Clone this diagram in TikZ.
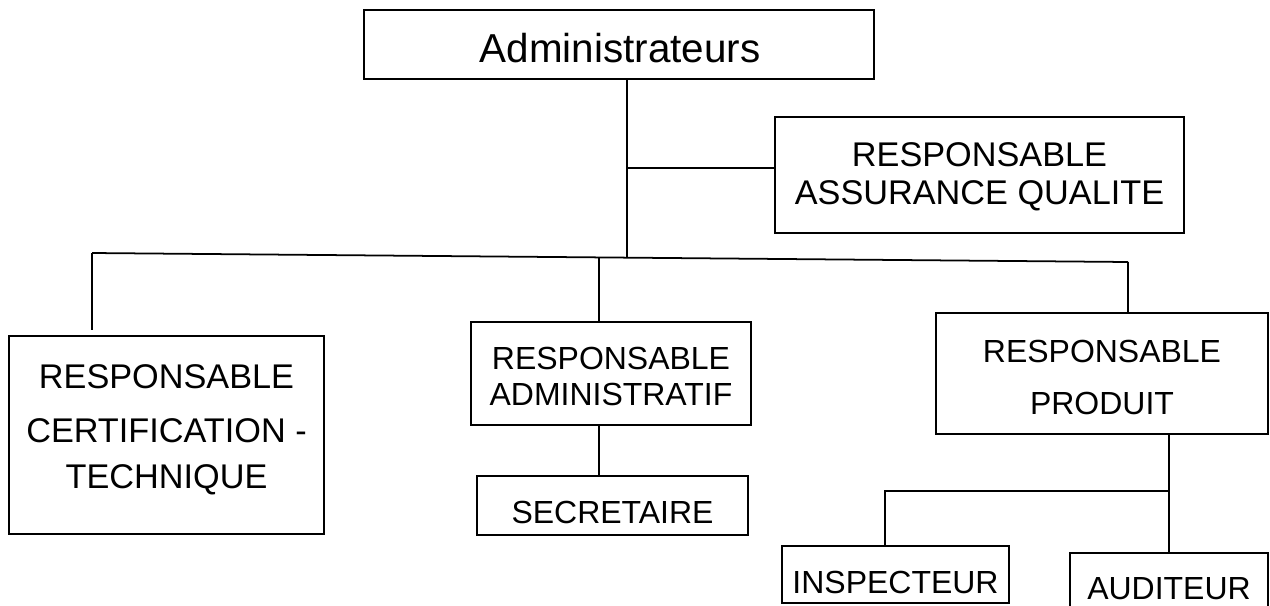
\documentclass[tikz,border=0pt]{standalone}
\usepackage{fontspec}
\setmainfont{Liberation Sans}
\usetikzlibrary{positioning, calc}

\tikzset{
    box/.style={draw, line width=1pt, inner sep=0pt},
    txt/.style={inner sep=0pt, align=center, font=\fontsize{18.2}{20.4}\selectfont},
    bigtxt/.style={txt, font=\fontsize{19.5}{21.5}\selectfont},
    link/.style={line width=1pt}
}

\begin{document}
\begin{tikzpicture}[x=0.02cm, y=-0.02cm]
    \useasboundingbox (0,0) rectangle (1270,605);
    % boxes
    \node[box, minimum width=510*0.02cm, minimum height=69*0.02cm] (admin) at (619,44.5) {};
    \node[box, minimum width=409*0.02cm, minimum height=116*0.02cm] (qualite) at (979.5,175) {};
    \node[box, minimum width=315*0.02cm, minimum height=198*0.02cm] (certif) at (166.5,435) {};
    \node[box, minimum width=280*0.02cm, minimum height=103*0.02cm] (respadm) at (611,373.5) {};
    \node[box, minimum width=271*0.02cm, minimum height=59*0.02cm] (secret) at (612.5,505.5) {};
    \node[box, minimum width=332*0.02cm, minimum height=121*0.02cm] (produit) at (1102,373.5) {};
    \node[box, minimum width=227*0.02cm, minimum height=57*0.02cm] (inspect) at (895.5,574.5) {};
    \node[box, minimum width=198*0.02cm, minimum height=67*0.02cm] (audit) at (1169,586.5) {};

    % texts
    \node[txt, font=\fontsize{23}{25}\selectfont] (admin-t) at ($(admin.center)+(1,4)$) {Administrateurs};
    \node[bigtxt] (qualite-t) at ($(qualite.center)+(0,2)$) {RESPONSABLE\\ASSURANCE QUALITE};
    \node[bigtxt] (certif-t) at ($(certif.center)+(0,-5)$) {RESPONSABLE\\[9pt]CERTIFICATION -\\[5pt]TECHNIQUE};
    \node[txt] (respadm-t) at ($(respadm.center)+(0,3)$) {RESPONSABLE\\ADMINISTRATIF};
    \node[txt] (secret-t) at ($(secret.center)+(0,7)$) {SECRETAIRE};
    \node[txt] (produit-t) at ($(produit.center)+(0,4)$) {RESPONSABLE\\[9pt]PRODUIT};
    \node[txt] (inspect-t) at ($(inspect.center)+(0,8)$) {INSPECTEUR};
    \node[txt] (audit-t) at ($(audit.center)+(0,2)$) {AUDITEUR};

    % branch points
    \coordinate (trunk) at (627,258);
    \coordinate (left) at (92,253);
    \coordinate (leftend) at (92,330);
    \coordinate (right) at (1128,262);
    \coordinate (mid) at (599,257.4);
    \coordinate (prodjoin) at (1169,491);
    \coordinate (inspjoin) at (885,491);

    % connectors
    \draw[link] (admin.south -| trunk) -- (trunk);
    \draw[link] (trunk |- 0,168) -- (qualite.west |- 0,168);
    \draw[link] (left) -- (right);
    \draw[link] (left) -- (leftend);
    \draw[link] (mid) -- (mid |- respadm.north);
    \draw[link] (right) -- (right |- produit.north);
    \draw[link] (respadm.south -| mid) -- (secret.north -| mid);
    \draw[link] (produit.south -| audit) -- (audit.north);
    \draw[link] (prodjoin) -- (inspjoin) -- (inspjoin |- inspect.north);
\end{tikzpicture}
\end{document}
